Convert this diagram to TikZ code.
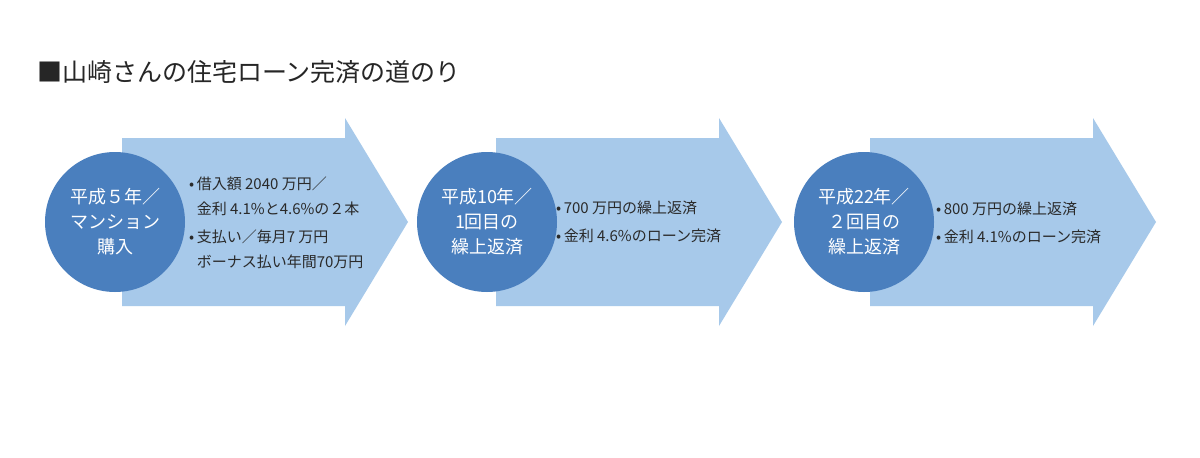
\documentclass[tikz,border=0pt]{standalone}
\usepackage{fontspec}
\setmainfont{Noto Sans CJK JP}
\definecolor{circblue}{HTML}{4A7FBE}
\definecolor{arrblue}{HTML}{A7C9EA}
\definecolor{txtgray}{HTML}{2A2A2A}
\begin{document}
\begin{tikzpicture}[x=1pt,y=-1pt,
  stage/.style={circle, fill=circblue, minimum size=140pt, inner sep=0pt, text=white, align=center, font=\fontsize{18}{25}\selectfont},
  info/.style={anchor=west, align=left, text=txtgray, inner sep=0pt, font=\fontsize{15}{25}\selectfont},
  bigarrow/.style={fill=arrblue}
]
\useasboundingbox[fill=white] (0,0) rectangle (1200,458);
\node[anchor=west, inner sep=0pt, text=black!85, font=\fontsize{25}{25}\selectfont] (title) at (37,72) {■山崎さんの住宅ローン完済の道のり};
\foreach \i in {0,1,2} {
  \pgfmathsetmacro\dx{374*\i}
  \fill[bigarrow] ({122+\dx},138) -- ({345+\dx},138) -- ({345+\dx},118) -- ({408+\dx},222) -- ({345+\dx},326) -- ({345+\dx},306) -- ({122+\dx},306) -- cycle;
}
\node[stage] (s1) at (115,222) {平成５年／\\マンション\\購入};
\node[stage] (s2) at (487,222) {平成10年／\\1回目の\\繰上返済};
\node[stage] (s3) at (864,222) {平成22年／\\２回目の\\繰上返済};
\node[info] (i1) at (189,223) {•\,借入額 2040 万円／\\\hphantom{•\,}金利 4.1\%と4.6\%の２本\\[3pt]•\,支払い／毎月7 万円\\\hphantom{•\,}ボーナス払い年間70万円};
\node[info] (i2) at (556,222) {•\,700 万円の繰上返済\\[3pt]•\,金利 4.6\%のローン完済};
\node[info] (i3) at (936,223) {•\,800 万円の繰上返済\\[3pt]•\,金利 4.1\%のローン完済};
\end{tikzpicture}
\end{document}
